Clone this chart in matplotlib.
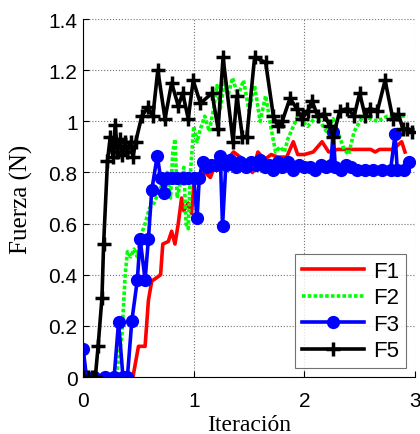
import matplotlib
matplotlib.use('Agg')
import matplotlib.pyplot as plt

# F1 (rojo)
x_f1 = [0, 0.1, 0.2, 0.3, 0.4, 0.45, 0.5, 0.56, 0.59, 0.62, 0.67, 0.7, 0.72, 0.77, 0.8, 0.83, 0.86,
        0.89, 0.91, 0.95, 0.98, 1.0, 1.04, 1.1, 1.15, 1.2, 1.25, 1.3, 1.36, 1.42, 1.48, 1.53, 1.58,
        1.64, 1.7, 1.76, 1.84, 1.9, 1.94, 2.0, 2.08, 2.16, 2.22, 2.3, 2.4, 2.5, 2.6, 2.64, 2.68, 2.8,
        2.88, 2.91]
y_f1 = [0, 0, 0, 0, 0, 0, 0.12, 0.12, 0.30, 0.375, 0.39, 0.40, 0.52, 0.53, 0.57, 0.52, 0.60,
        0.70, 0.65, 0.68, 0.64, 0.75, 0.78, 0.80, 0.78, 0.84, 0.82, 0.85, 0.88, 0.86, 0.84, 0.80, 0.88,
        0.85, 0.87, 0.86, 0.86, 0.92, 0.87, 0.87, 0.88, 0.92, 0.88, 0.89, 0.89, 0.89, 0.89, 0.88, 0.89, 0.89,
        0.92, 0.88]

# F2 (verde, punteada)
x_f2 = [0, 0.1, 0.2, 0.3, 0.33, 0.35, 0.38, 0.4, 0.43, 0.46, 0.49, 0.52, 0.56, 0.6, 0.64, 0.68,
        0.72, 0.76, 0.79, 0.81, 0.83, 0.85, 0.88, 0.91, 0.93, 0.95, 0.97, 1.0, 1.03, 1.06, 1.1, 1.14,
        1.18, 1.21, 1.24, 1.28, 1.31, 1.35, 1.4, 1.45, 1.5, 1.55, 1.6, 1.65, 1.7, 1.74, 1.78, 1.82,
        1.85, 1.94, 2.03, 2.11, 2.2, 2.26, 2.3, 2.36, 2.4, 2.45, 2.53, 2.66, 2.75, 2.84, 2.93]
y_f2 = [0, 0, 0, 0, 0.10, 0.16, 0.40, 0.49, 0.47, 0.50, 0.47, 0.55, 0.60, 0.66, 0.68, 0.72,
        0.76, 0.80, 0.70, 0.88, 0.93, 0.70, 0.76, 0.82, 0.60, 0.58, 0.80, 0.98, 0.92, 0.97, 1.02, 0.96,
        1.05, 1.14, 1.05, 1.16, 1.10, 1.17, 1.10, 1.16, 1.04, 1.14, 1.00, 1.10, 0.97, 0.88, 0.90, 0.88,
        0.93, 1.02, 0.98, 1.02, 0.96, 1.01, 0.96, 0.89, 0.87, 0.96, 1.02, 1.00, 1.02, 1.02, 1.02]

# F3 (azul, circulos)
x_f3 = [0, 0.03, 0.1, 0.2, 0.28, 0.32, 0.36, 0.4, 0.44, 0.49, 0.515, 0.56, 0.59, 0.62, 0.67, 0.7,
        0.73, 0.76, 0.8, 0.85, 0.9, 0.95, 1.0, 1.03, 1.05, 1.08, 1.12, 1.16, 1.2, 1.24, 1.26, 1.29,
        1.33, 1.38, 1.42, 1.47, 1.52, 1.56, 1.6, 1.64, 1.68, 1.72, 1.76, 1.8, 1.85, 1.9, 1.95, 2.0,
        2.05, 2.1, 2.15, 2.2, 2.24, 2.26, 2.28, 2.33, 2.38, 2.42, 2.48, 2.55, 2.62, 2.7, 2.78, 2.82,
        2.84, 2.9, 2.95]
y_f3 = [0.11, 0, 0, 0, 0, 0.215, 0, 0, 0.22, 0.38, 0.54, 0.38, 0.54, 0.73, 0.865, 0.78,
        0.72, 0.78, 0.78, 0.78, 0.78, 0.78, 0.78, 0.62, 0.78, 0.84, 0.82, 0.83, 0.83, 0.865, 0.59, 0.83,
        0.85, 0.82, 0.84, 0.82, 0.84, 0.83, 0.85, 0.82, 0.83, 0.81, 0.84, 0.82, 0.84, 0.81, 0.83, 0.82,
        0.82, 0.81, 0.83, 0.82, 0.83, 0.96, 0.82, 0.81, 0.83, 0.82, 0.81, 0.81, 0.81, 0.81, 0.81, 0.95,
        0.81, 0.81, 0.84]

# F5 (negro, cruces)
x_f5 = [0, 0.04, 0.08, 0.11, 0.135, 0.17, 0.185, 0.22, 0.245, 0.27, 0.29, 0.31, 0.33, 0.355, 0.38,
        0.4, 0.43, 0.45, 0.475, 0.53, 0.585, 0.63, 0.675, 0.74, 0.8, 0.86, 0.9, 0.95, 0.995, 1.06,
        1.165, 1.22, 1.265, 1.355, 1.39, 1.44, 1.48, 1.55, 1.65, 1.72, 1.76, 1.8, 1.87, 1.93, 1.98,
        2.03, 2.07, 2.12, 2.18, 2.23, 2.26, 2.32, 2.39, 2.45, 2.5, 2.55, 2.59, 2.66, 2.73, 2.8, 2.85,
        2.89, 2.93, 2.97]
y_f5 = [0, 0, 0, 0, 0.12, 0.31, 0.52, 0.845, 0.94, 0.86, 0.985, 0.88, 0.93, 0.87, 0.92,
        0.88, 0.92, 0.86, 0.92, 1.02, 1.055, 1.02, 1.20, 1.01, 1.15, 1.06, 1.11, 1.01, 1.16, 1.07,
        1.11, 0.97, 1.25, 0.92, 1.10, 0.94, 0.94, 1.25, 1.23, 1.02, 0.98, 1.00, 1.09, 1.05, 1.01,
        1.04, 1.08, 1.02, 1.03, 0.98, 0.94, 1.04, 1.05, 1.02, 1.11, 1.02, 1.05, 1.04, 1.16, 1.01, 1.03,
        0.97, 0.97, 0.96]

fig = plt.figure(figsize=(4.2, 4.35), dpi=100)
ax = fig.add_axes([0.198, 0.131, 0.79, 0.823])

ax.plot(x_f1, y_f1, color='#ff0000', lw=2.6, label='F1')
ax.plot(x_f2, y_f2, color='#00ff00', lw=2.6, ls=(0, (1, 0.6)), label='F2')
ax.plot(x_f3, y_f3, color='#0000ff', lw=2.6, marker='o', ms=8.5, label='F3')
ax.plot(x_f5, y_f5, color='black', lw=2.6, marker='+', ms=10, mew=2.5, label='F5')

ax.set_xlim(0, 3)
ax.set_ylim(0, 1.4)
ax.set_xticks([0, 1, 2, 3])
ax.set_yticks([0, 0.2, 0.4, 0.6, 0.8, 1, 1.2, 1.4])
ax.set_yticklabels(['0', '0.2', '0.4', '0.6', '0.8', '1', '1.2', '1.4'])
ax.grid(True, ls=':', color='0.45', lw=0.8)
ax.spines['top'].set_visible(False)
ax.spines['right'].set_visible(False)
ax.tick_params(direction='in', labelsize=15, length=4)
ax.tick_params(axis='x', pad=10)
ax.tick_params(axis='y', pad=4)
for lab in ax.get_xticklabels() + ax.get_yticklabels():
    lab.set_family('Liberation Sans')

ax.set_xlabel('Iteración', family='Liberation Serif', fontsize=17, labelpad=3)
ax.set_ylabel('Fuerza (N)', family='Liberation Serif', fontsize=18, labelpad=11)

leg = ax.legend(loc='lower right', bbox_to_anchor=(0.973, 0.025), borderaxespad=0,
                fancybox=False, edgecolor='0.3',
                prop={'family': 'Liberation Sans', 'size': 16}, handlelength=2.8,
                labelspacing=0.25, borderpad=0.3, handletextpad=0.4)
leg.get_frame().set_linewidth(0.8)

fig.savefig('out.png', dpi=100)
